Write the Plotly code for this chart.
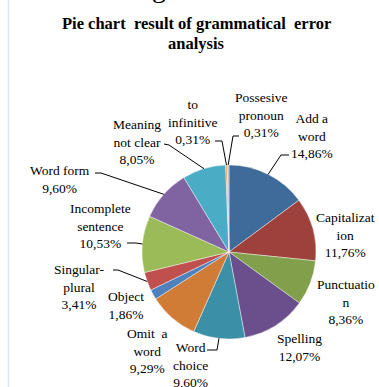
import plotly.graph_objects as go
import math

# ---- data ----
categories = ["Add a word", "Capitalization", "Punctuation", "Spelling", "Word choice",
              "Omit a word", "Object", "Singular-plural", "Incomplete sentence",
              "Word form", "Meaning not clear", "to infinitive", "Possesive pronoun"]
values = [14.86, 11.76, 8.36, 12.07, 9.60, 9.29, 1.86, 3.41, 10.53, 9.60, 8.05, 0.31, 0.31]
label_text = ["Add a<br>word", "Capitalizat<br>ion", "Punctuatio<br>n", "Spelling",
              "Word<br>choice", "Omit \u00a0a<br>word", "Object", "Singular-<br>plural",
              "Incomplete<br>sentence", "Word form", "Meaning<br>not clear",
              "to<br>infinitive", "Possesive<br>pronoun"]
title_lines = ["Pie chart \u00a0result of grammatical \u00a0error", "analysis"]

# ---- style ----
colors = ["#3F6B9B", "#9E403C", "#82A04B", "#6A4F8C", "#3B8FA6", "#D07C37", "#4F81BD",
          "#C0504D", "#9BBB59", "#8064A2", "#4BACC6", "#F79646", "#A7B8D6"]
W, H = 379, 387
CX, CY, R = 229, 252, 87
FONT = "Liberation Serif"
title_y = [23, 43]
# label block centres (px)
label_pos = [(312, 136), (345, 235), (346, 302), (299, 347.5), (190, 365), (147, 351),
             (126, 305.5), (79, 287), (100, 226), (60, 179.5), (137, 142), (193, 122),
             (261, 115)]
# leader lines: (start, elbow) in px, or None
leaders = [((289, 155), (281, 155)), None, None, None, ((207, 350), (217, 350)), None, None,
           ((113, 270), (118, 270)), ((127, 243), (136, 243)), ((95, 173), (101, 173)),
           ((164, 144), (169, 145)), ((215, 141), (222, 141)), ((239, 136), (233, 136))]


def px(x):
    return x / W


def py(y):
    return 1 - y / H


fig = go.Figure(go.Pie(
    labels=categories, values=values, sort=False, direction="clockwise", rotation=0,
    marker=dict(colors=colors, line=dict(color="rgba(255,255,255,0.7)", width=0.6)),
    textinfo="none", hoverinfo="label+percent", showlegend=False,
    domain=dict(x=[px(CX - R), px(CX + R)], y=[py(CY + R), py(CY - R)]),
))

annotations = []
shapes = []
total = sum(values)
cum = 0.0
for i, v in enumerate(values):
    mid = (cum + v / 2) / total * 2 * math.pi
    cum += v
    ex, ey = CX + R * math.sin(mid), CY - R * math.cos(mid)
    pct = f"{v:.2f}".replace(".", ",") + "%"
    lx, ly = label_pos[i]
    annotations.append(dict(text=label_text[i] + "<br>" + pct, x=px(lx), y=py(ly),
                            xref="paper", yref="paper", showarrow=False,
                            xanchor="center", yanchor="middle", align="center",
                            font=dict(family=FONT, size=13.5, color="#000000")))
    if leaders[i] is not None:
        (sx, sy), (bx, by) = leaders[i]
        shapes.append(dict(type="path", xref="paper", yref="paper",
                           path=f"M {px(sx)} {py(sy)} L {px(bx)} {py(by)} L {px(ex)} {py(ey)}",
                           line=dict(color="#000000", width=1)))

for t, ty in zip(title_lines, title_y):
    annotations.append(dict(text=f"<b>{t}</b>", x=px(196), y=py(ty), xref="paper", yref="paper",
                            showarrow=False, xanchor="center", yanchor="middle", align="center",
                            font=dict(family=FONT, size=16.5, color="#000000")))
annotations.append(dict(text="g", x=px(159), y=py(-12), xref="paper", yref="paper",
                        showarrow=False, xanchor="center", yanchor="middle",
                        font=dict(family=FONT, size=28, color="#000000")))
shapes.append(dict(type="line", xref="paper", yref="paper", x0=px(8.5), x1=px(8.5), y0=0, y1=1,
                   line=dict(color="#DCE4F0", width=1.5)))

fig.update_layout(width=W, height=H, margin=dict(l=0, r=0, t=0, b=0),
                  paper_bgcolor="white", plot_bgcolor="white",
                  annotations=annotations, shapes=shapes)
fig.write_html("out.html")
